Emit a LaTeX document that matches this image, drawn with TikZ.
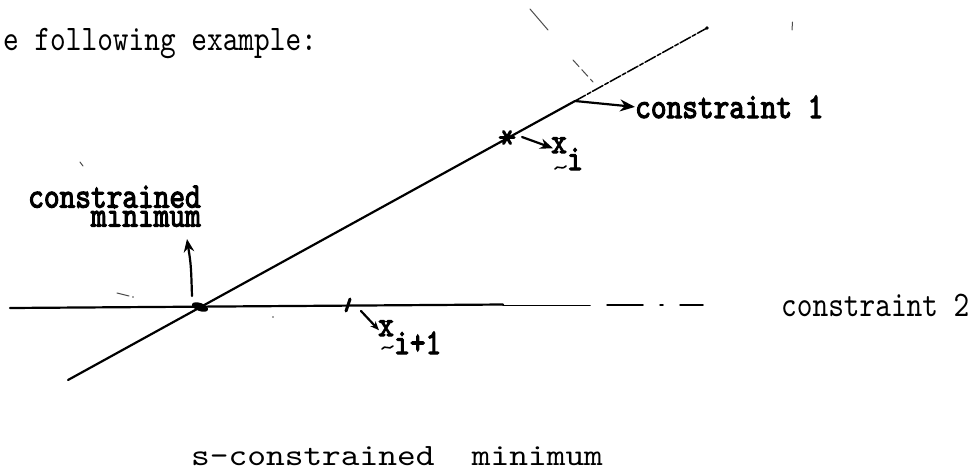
\documentclass[tikz,border=0pt]{standalone}
\usepackage{fontspec}
\newfontfamily\tw[FakeStretch=0.83]{lmmono10-regular.otf}
\newfontfamily\twk[FakeStretch=0.83,FakeBold=3]{lmmono10-regular.otf}
\newfontfamily\twb[FakeStretch=1.15]{lmmono10-regular.otf}
\usetikzlibrary{arrows.meta}
\begin{document}
\begin{tikzpicture}[x=1pt,y=-1pt,line cap=round,
  ln/.style={line width=2.2pt},
  thinln/.style={line width=1.5pt},
  stray/.style={line width=1pt,black!70},
  tip/.style={-{Stealth[length=#1,width=0.8*#1]}},
  tilde/.style={line width=1.6pt},
  lab/.style={inner sep=0pt,anchor=base west,font=\tw\fontsize{36}{36}\selectfont},
  labk/.style={inner sep=0pt,anchor=base west,font=\twk\fontsize{36}{36}\selectfont},
  labb/.style={inner sep=0pt,anchor=base west,font=\twb\fontsize{31}{31}\selectfont}]
\useasboundingbox (0,0) rectangle (973,471);

% key points
\coordinate (L0) at (68,380);
\coordinate (cmin) at (200,307);
\coordinate (c1) at (575,101);
\coordinate (L1) at (707,28);
\coordinate (H0) at (10,308);
\coordinate (H1) at (503,304.5);
\coordinate (xi) at (507,137.5);
\coordinate (xip) at (348,305);

% constraint 1 (diagonal)
\draw[ln] (L0) -- (c1);
\draw[thinln,dash pattern=on 12pt off 2pt on 4pt off 2pt] (c1) -- (L1);
\fill (L1) circle (1.8);

% constraint 2 (horizontal)
\draw[ln] (H0) -- (H1);
\draw[thinln] (503,305.5) -- (590,305.5);
\draw[thinln] (607,305) -- (643,305);
\draw[thinln] (660,305) -- (663,305);
\draw[thinln] (680,305) -- (703,305);

% points
\fill[rotate around={-20:(cmin)}] (cmin) ellipse [x radius=8.5, y radius=4];
\foreach \a in {0,60,120} {\draw[line width=3pt] (xi) ++(\a:7) -- ++(\a+180:14);}
\draw[line width=3pt] (350,299) -- (346,311);

% texts
\node[lab] (top) at (3,50) {e following example:};
\node[labk] (c1t) at (635,118) {constraint 1};
\node[labk,align=right,anchor=south east,font=\twk\fontsize{36}{22}\selectfont] (cm) at (201,227) {constrained\\[-3pt]minimum};
\node[labk] (xa) at (551,153) {x};
\node[labk] (xb) at (567,170) {i};
\node[labk] (xc) at (378,336) {x};
\node[labk] (xd) at (394,354) {i+1};
\node[lab] (c2t) at (781,316) {constraint 2};
\node[labb] (bot) at (191,465) {s-constrained\ \ minimum};

% tildes under the x's
\draw[tilde] (555,169) .. controls (558,164) and (561,171) .. (566,166);
\draw[tilde] (382,349) .. controls (385,344) and (389,351) .. (393,346);

% arrows
\coordinate (cma) at (192,296);
\coordinate (cmt) at (187,239);
\coordinate (xia) at (522,137);
\coordinate (xipa) at (361,311);
\draw[ln,tip=13pt] (cma) .. controls (191,265) .. (cmt);
\draw[ln,tip=15pt] (c1) -- (c1t.west);
\draw[ln,tip=13pt] (xia) -- ([xshift=2pt,yshift=-3pt]xa.west);
\draw[ln,tip=9pt] (xipa) -- ([xshift=1pt,yshift=-2pt]xc.west);

% stray marks of the scan
\draw[stray] (530,9) -- (548,30);
\draw[stray,dash pattern=on 9pt off 4pt] (573,60) -- (593,82);
\draw[stray] (792.5,22) -- (792,30);
\draw[stray] (80,162) -- (83,166);
\draw[stray] (117,293) -- (129,296);
\fill[black!70] (133,297) circle (0.8);
\fill[black!70] (273,317) circle (0.9);
\end{tikzpicture}
\end{document}
